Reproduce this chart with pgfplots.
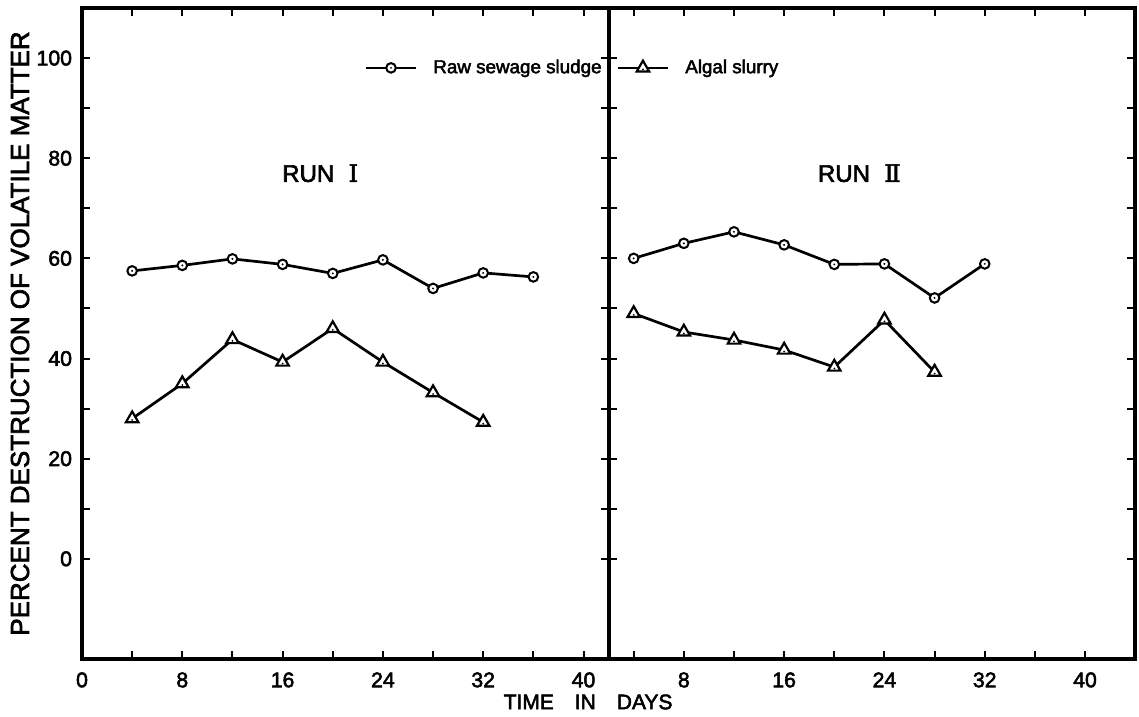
\documentclass[border=0pt]{standalone}
\usepackage{fontspec}
\setmainfont{Liberation Sans}[FakeBold=2.5]
\newfontfamily\romfont{DejaVu Serif}[FakeBold=2.5]
\usepackage{pgfplots}
\pgfplotsset{compat=1.18}

\pgfdeclareplotmark{odot}{%
  \pgfpathcircle{\pgfpointorigin}{\pgfplotmarksize}%
  \pgfusepathqfillstroke
  \begin{pgfscope}\pgfsetfillcolor{black}%
  \pgfpathcircle{\pgfpointorigin}{0.55pt}\pgfusepathqfill
  \end{pgfscope}}
\pgfdeclareplotmark{tridot}{%
  \pgfpathmoveto{\pgfqpoint{0pt}{\pgfplotmarksize}}%
  \pgfpathlineto{\pgfqpoint{-0.866\pgfplotmarksize}{-0.5\pgfplotmarksize}}%
  \pgfpathlineto{\pgfqpoint{0.866\pgfplotmarksize}{-0.5\pgfplotmarksize}}%
  \pgfpathclose
  \pgfusepathqfillstroke
  \begin{pgfscope}\pgfsetfillcolor{black}%
  \pgfpathcircle{\pgfqpoint{0pt}{-0.2\pgfplotmarksize}}{0.5pt}\pgfusepathqfill
  \end{pgfscope}}

\pgfplotstableread{
x y
4 57.5
8 58.6
12 59.9
16 58.8
20 57.0
24 59.7
28 54.0
32 57.1
36 56.3
}\sewageA
\pgfplotstableread{
x y
4 28.0
8 35.0
12 43.8
16 39.3
20 46.0
24 39.3
28 33.2
32 27.3
}\algaeA
\pgfplotstableread{
x y
4 60.0
8 63.0
12 65.3
16 62.7
20 58.8
24 58.9
28 52.1
32 58.9
}\sewageB
\pgfplotstableread{
x y
4 49.0
8 45.3
12 43.7
16 41.7
20 38.3
24 47.7
28 37.3
}\algaeB

\pgfplotsset{
  panel/.style={
    scale only axis, width=263.3bp, height=325.5bp,
    ymin=-20, ymax=110,
    ytick={0,20,...,100}, minor ytick={10,30,...,90},
    axis line style={line width=2bp},
    every tick/.style={line width=1bp, black},
    major tick length=4bp, minor tick length=4bp,
    tick align=inside, tick pos=both,
    tick label style={font=\fontsize{10.6bp}{12bp}\selectfont},
    /pgf/number format/assume math mode=true,
    xticklabel style={yshift=-3.2bp},
    yticklabel style={xshift=-1.5bp},
    clip=false,
  },
  sew/.style={black, line width=1.35bp, mark=odot, mark size=2.4bp,
    mark options={solid, fill=white, line width=1bp}},
  alg/.style={black, line width=1.35bp, mark=tridot, mark size=3.6bp,
    mark options={solid, fill=white, line width=1.1bp}},
}

\begin{document}
\begin{tikzpicture}
\useasboundingbox (0,0) rectangle (569.5bp,358.5bp);
\begin{axis}[panel,
  at={(41bp,29bp)}, anchor=south west,
  xmin=0, xmax=42,
  xtick={0,8,...,40}, minor xtick={4,12,...,36},
  ylabel={PERCENT DESTRUCTION OF VOLATILE MATTER},
  ylabel style={at={(axis description cs:-0.1177,0.5)}, anchor=center,
    font=\fontsize{13bp}{15bp}\selectfont},
  xlabel={TIME\hspace{1em}IN\hspace{1em}DAYS},
  xlabel style={at={(axis description cs:0.961,-0.066)}, anchor=center,
    font=\fontsize{10.5bp}{12bp}\selectfont},
  legend style={draw=none, fill=none, at={(axis description cs:0.536,0.908)},
    anchor=west, legend columns=2, inner sep=0pt,
    font=\fontsize{9.4bp}{11bp}\selectfont,
    nodes={inner sep=0pt},
    /tikz/every odd column/.append style={column sep=8bp},
    /tikz/every even column/.append style={column sep=7.5bp}},
  legend image code/.code={\draw[mark repeat=2,mark phase=2] plot coordinates {(0bp,0bp) (12.5bp,0bp) (25bp,0bp)};},
]
\addplot[sew] table[x=x,y=y] {\sewageA};
\addlegendentry{Raw sewage sludge}
\addplot[alg] table[x=x,y=y] {\algaeA};
\addlegendentry{Algal slurry}
\node[font=\fontsize{12bp}{14bp}\selectfont] at (axis cs:19,77) {RUN\hspace{0.6em}{\romfont Ⅰ}};
\end{axis}
\begin{axis}[panel,
  at={(304.3bp,29bp)}, anchor=south west,
  xmin=2, xmax=44,
  xtick={8,16,...,40}, minor xtick={4,12,...,36},
  yticklabels={},
]
\addplot[sew] table[x=x,y=y] {\sewageB};
\addplot[alg] table[x=x,y=y] {\algaeB};
\node[font=\fontsize{12bp}{14bp}\selectfont] at (axis cs:22,77) {RUN\hspace{0.6em}{\romfont Ⅱ}};
\end{axis}
\end{tikzpicture}
\end{document}
